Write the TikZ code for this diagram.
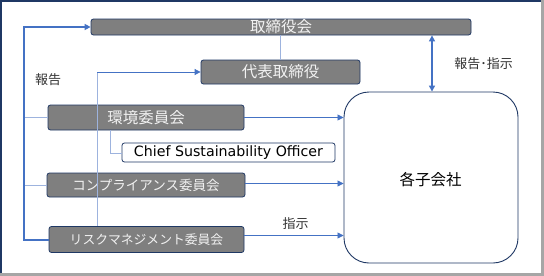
\documentclass[tikz,border=0pt]{standalone}
\usepackage{fontspec}
\setmainfont{Noto Sans CJK JP}
\newfontfamily\csofont{DejaVu Sans}
\usetikzlibrary{arrows.meta}
\definecolor{navy}{HTML}{1F3864}
\definecolor{linkblue}{HTML}{4472C4}
\definecolor{thinblue}{HTML}{9DB3DE}
\definecolor{boxgray}{HTML}{7F7F7F}
\definecolor{boxtext}{HTML}{F2F2F2}
\definecolor{framegray}{HTML}{A6A6A6}
\tikzset{
  organ/.style={draw=navy, fill=boxgray, rounded corners=2.5pt, text=boxtext,
    inner sep=0pt, line width=0.8pt, font=\fontsize{15.5}{16}\selectfont},
  officer/.style={draw=navy, fill=white, rounded corners=2.5pt, inner sep=0pt,
    line width=0.8pt, font=\csofont\fontsize{14.2}{15}\selectfont},
  lbl/.style={inner sep=0pt, text=black!80, font=\fontsize{13}{14}\selectfont},
  thick link/.style={draw=linkblue, line width=1.6pt},
  thin link/.style={draw=thinblue, line width=0.8pt},
  tip/.style={-{Triangle[length=6pt,width=6pt]}, linkblue},
}
\begin{document}
\begin{tikzpicture}[x=1pt,y=-1pt]
% frame
\fill[framegray] (0,0) rectangle (544,276);
\fill[white] (0,0) rectangle (541,273);
\draw[navy, line width=1.5pt] (0.75,273) -- (0.75,0.75) -- (541,0.75);
\useasboundingbox (0,0) rectangle (544,276);

% boxes
\node[organ, minimum width=380pt, minimum height=16pt] (board) at (281,27) {取締役会};
\node[organ, minimum width=159pt, minimum height=24pt] (rep) at (280.5,72) {代表取締役};
\node[organ, minimum width=196pt, minimum height=25pt] (env) at (146,117.5) {環境委員会};
\node[officer, minimum width=213pt, minimum height=19pt] (cso) at (228.5,152.5) {Chief Sustainability Officer};
\node[organ, minimum width=198pt, minimum height=24pt, font=\fontsize{13.5}{14}\selectfont] (comp) at (146,185) {コンプライアンス委員会};
\node[organ, minimum width=195pt, minimum height=26pt, font=\fontsize{12.8}{14}\selectfont] (risk) at (146.5,239.5) {リスクマネジメント委員会};
\node[draw=navy, line width=0.9pt, rounded corners=25pt, minimum width=174pt, minimum height=171pt] (subs) at (431,177.5) {};
\node[font=\fontsize{15.5}{16}\selectfont, inner sep=0pt] (subslbl) at (430.5,180) {各子会社};

% labels
\node[lbl] (report) at (48,80) {報告};
\node[lbl] (both) at (483.5,63.5) {報告･指示};
\node[lbl] (order) at (295.5,224) {指示};

% reporting lines
\coordinate (bus top) at (24,27);
\coordinate (bus bottom) at (24,240);
\draw[thin link] (bus top |- env.west) -- (env.west);
\draw[thin link] (bus top |- comp.west) -- (comp.west);
\draw[thick link, tip] (risk.west |- bus bottom) -- (bus bottom) -- (bus top) -- (board.west);

\coordinate (rep top) at (97,72);
\draw[thin link] (rep top |- risk.north) -- (rep top);
\draw[thin link, tip] (rep top) -- (rep.west);
\draw[thin link] (rep.north) -- (rep.north |- board.south);

\coordinate (cso bend) at (110,153);
\draw[thin link] (cso bend |- env.south) -- (cso bend) -- (cso.west |- cso bend);

% instructions
\draw[thin link, tip] (env.east) -- (env.east -| subs.west);
\draw[thin link, tip] ([yshift=1.5pt]comp.east) -- ([yshift=1.5pt]comp.east -| subs.west);
\draw[thin link, tip] ([yshift=4pt]risk.east) -- ([yshift=4pt]risk.east -| subs.west);
\draw[thick link, line width=1.3pt, {Triangle[length=6pt,width=6pt]}-{Triangle[length=6pt,width=6pt]}]
  (subs.north -| 432,0) -- (board.south -| 432,0);
\end{tikzpicture}
\end{document}
